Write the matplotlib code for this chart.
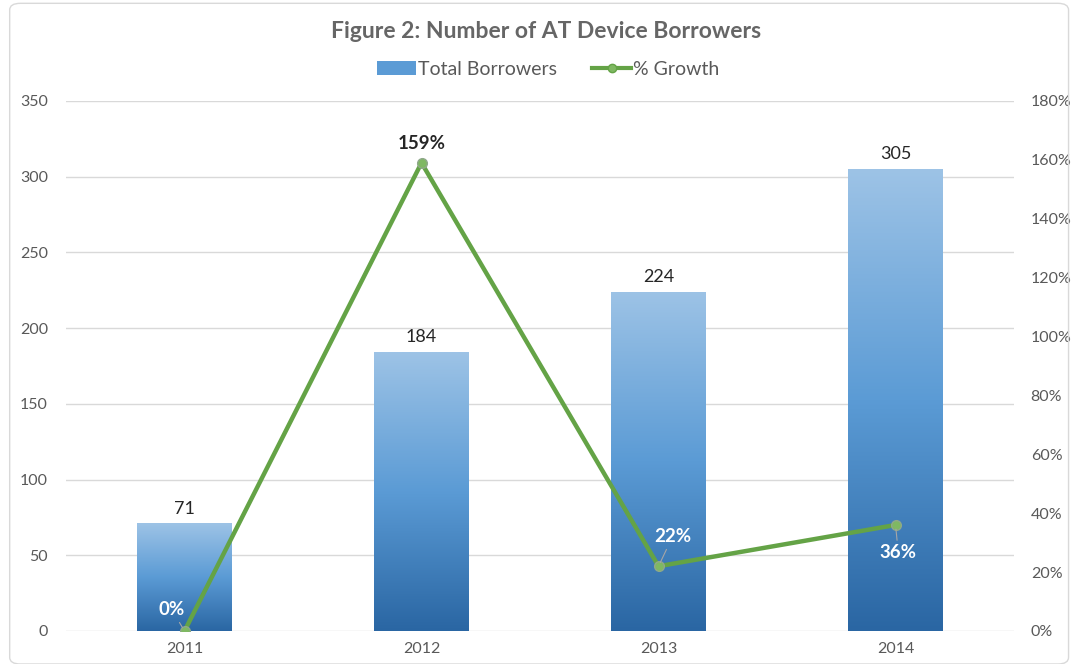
import matplotlib
matplotlib.use("Agg")
import numpy as np
import matplotlib.pyplot as plt
from matplotlib.colors import LinearSegmentedColormap
from matplotlib.patches import FancyBboxPatch
from matplotlib.lines import Line2D
from matplotlib.patches import Patch

years = ["2011", "2012", "2013", "2014"]
borrowers = [71, 184, 224, 305]
growth = [0, 159, 22, 36]  # percent
growth_labels = ["0%", "159%", "22%", "36%"]

plt.rcParams["font.family"] = ["Lato", "DejaVu Sans"]
gray = "#595959"
green = "#64a346"

fig = plt.figure(figsize=(10.75, 6.64), dpi=100)
ax = fig.add_axes([0.0614, 0.0497, 0.8819, 0.7982])
ax2 = ax.twinx()

x = np.arange(len(years))

# bars with a vertical blue gradient
bar_cmap = LinearSegmentedColormap.from_list("blues", ["#2a66a3", "#5b9bd5", "#9dc3e6"])
bars = ax.bar(x, borrowers, width=0.4, color="none", zorder=2)
grad = np.linspace(0, 1, 256).reshape(-1, 1)
for b in bars:
    x0, y0 = b.get_x(), b.get_y()
    im = ax.imshow(grad, cmap=bar_cmap, origin="lower", aspect="auto",
                   extent=[x0, x0 + b.get_width(), y0, y0 + b.get_height()],
                   zorder=2)
    im.set_clip_path(b)
ax.set_xlim(-0.5, len(years) - 0.5)
ax.set_ylim(0, 350)
ax2.set_ylim(0, 180)

for xi, v in zip(x, borrowers):
    ax.annotate(str(v), (xi, v), xytext=(0, 5), textcoords="offset points",
                ha="center", va="bottom", fontsize=13, color="#262626")

# growth line
ax2.plot(x, growth, color=green, lw=3.2, marker="o", ms=7,
         markerfacecolor="#7fb862", markeredgecolor="#8fa88a",
         markeredgewidth=1, zorder=3, solid_capstyle="round")

offsets = [(-9, 9), (0, 8), (10, 15), (2, -14)]
for i, (xi, v, lab) in enumerate(zip(x, growth, growth_labels)):
    col = "#262626" if i == 1 else "white"
    va = "bottom" if offsets[i][1] > 0 else "top"
    if i == 1:
        ax2.annotate(lab, (xi, v), xytext=offsets[i], textcoords="offset points",
                     ha="center", va=va, fontsize=13.5, fontweight="bold", color=col)
    else:
        ax2.annotate(lab, (xi, v), xytext=offsets[i], textcoords="offset points",
                     ha="center", va=va, fontsize=13.5, fontweight="bold", color=col,
                     arrowprops=dict(arrowstyle="-", color="#a6a6a6", lw=0.8,
                                     shrinkA=1, shrinkB=3))

# axes styling
ax.set_yticks(np.arange(0, 351, 50))
ax2.set_yticks(np.arange(0, 181, 20))
ax2.set_yticklabels([f"{t}%" for t in range(0, 181, 20)])
ax.set_xticks(x)
ax.set_xticklabels(years)
ax.grid(axis="y", color="#d9d9d9", lw=1)
ax.set_axisbelow(True)
for a in (ax, ax2):
    for s in a.spines.values():
        s.set_visible(False)
    a.tick_params(length=0, labelsize=11.5, colors=gray)
ax.tick_params(axis="y", pad=13)
ax2.tick_params(axis="y", pad=12)
ax.tick_params(axis="x", pad=8)

fig.text(0.508, 0.953, "Figure 2: Number of AT Device Borrowers", ha="center",
         va="center", fontsize=16.5, fontweight="bold", color="#666666")

handles = [Patch(facecolor="#5b9bd5", edgecolor="none"),
           Line2D([], [], color=green, lw=3, marker="o", ms=6,
                  markerfacecolor="#7fb862")]
fig.legend(handles, ["Total Borrowers", "% Growth"], loc="center",
           bbox_to_anchor=(0.51, 0.896), ncol=2, frameon=False, fontsize=14,
           labelcolor=gray, handlelength=2.0, handletextpad=0.1, columnspacing=1.8)

# thin outer frame
fig.patches.append(FancyBboxPatch((0.009, 0.0), 0.985, 0.995,
                                  boxstyle="round,pad=0,rounding_size=0.01",
                                  transform=fig.transFigure, fill=False,
                                  edgecolor="#d9d9d9", lw=1))

fig.savefig("out.png", dpi=100)
